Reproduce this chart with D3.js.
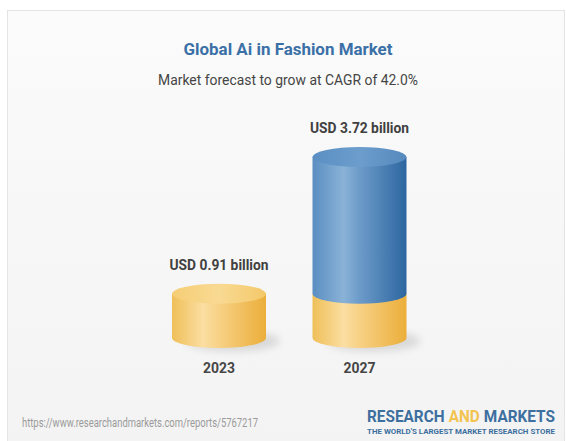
<!DOCTYPE html>
<html>
<head>
<meta charset="utf-8">
<script src="https://cdn.jsdelivr.net/npm/d3@7"></script>
<style>
  html, body { margin: 0; padding: 0; background: #ffffff; }
  svg { display: block; }
  text { font-family: Roboto, "Noto Sans", sans-serif; }
</style>
</head>
<body>
<svg id="chart" width="566" height="441"></svg>
<script>
// Market size by year (USD billion)
const years = ["2023", "2027"];
const values = [0.91, 3.72];
const valueLabels = ["USD 0.91 billion", "USD 3.72 billion"];
const title = "Global Ai in Fashion Market";
const subtitle = "Market forecast to grow at CAGR of 42.0%";
const sourceUrl = "https://www.researchandmarkets.com/reports/5767217";
const brandWords = ["RESEARCH", "AND", "MARKETS"];
const tagline = "THE WORLD'S LARGEST MARKET RESEARCH STORE";

const svg = d3.select("#chart");

const defs = svg.append("defs");

// card background
const bg = defs.append("linearGradient").attr("id", "bg")
  .attr("x1", 0).attr("y1", 0).attr("x2", 0).attr("y2", 1);
bg.append("stop").attr("offset", "0%").attr("stop-color", "#fbfbfb");
bg.append("stop").attr("offset", "100%").attr("stop-color", "#f3f3f3");

function hGrad(id, stops) {
  const g = defs.append("linearGradient").attr("id", id)
    .attr("x1", 0).attr("y1", 0).attr("x2", 1).attr("y2", 0);
  stops.forEach(([o, c]) => g.append("stop").attr("offset", o).attr("stop-color", c));
}
hGrad("yellowBody", [["0%", "#efbf58"], ["33%", "#fbdea2"], ["50%", "#f7d185"], ["100%", "#ebae3a"]]);
hGrad("blueBody", [["0%", "#5a8ec1"], ["33%", "#8ab2d7"], ["50%", "#6c9bc9"], ["100%", "#2d66a0"]]);
hGrad("yellowTop", [["0%", "#f5cd74"], ["50%", "#f9da93"], ["100%", "#f3c869"]]);
hGrad("blueTop", [["0%", "#5a8fc3"], ["50%", "#6c9dcc"], ["100%", "#5689bd"]]);

const shadowBlur = defs.append("filter").attr("id", "soft")
  .attr("x", "-50%").attr("y", "-200%").attr("width", "200%").attr("height", "500%");
shadowBlur.append("feGaussianBlur").attr("stdDeviation", 4);

svg.append("rect")
  .attr("x", 7.5).attr("y", 10.5).attr("width", 557).attr("height", 440)
  .attr("fill", "url(#bg)").attr("stroke", "#e4e4e4");

// scales
const x = d3.scalePoint().domain(years).range([219, 359.5]);
const y = d3.scaleLinear().domain([0, 3.72]).range([338, 157]);
const rx = 47, ry = 10;

// squeeze a text to the given width (narrow face look)
function fit(sel, w) {
  return sel.attr("textLength", w).attr("lengthAdjust", "spacingAndGlyphs");
}

// headings
fit(svg.append("text").attr("x", 288).attr("y", 55).attr("text-anchor", "middle")
  .attr("font-size", 17).attr("font-weight", 700).attr("fill", "#3b70a7").text(title), 209);
fit(svg.append("text").attr("x", 288).attr("y", 85).attr("text-anchor", "middle")
  .attr("font-size", 15.5).attr("fill", "#454545").text(subtitle), 260);

function bodyPath(cx, yTop, yBot) {
  const x0 = cx - rx, x1 = cx + rx;
  return `M${x0},${yTop} L${x0},${yBot} A${rx},${ry} 0 0 0 ${x1},${yBot} L${x1},${yTop} Z`;
}

const base = values[0];
const g = svg.append("g");

years.forEach((yr, i) => {
  const cx = x(yr);
  const v = values[i];
  const lower = Math.min(v, base);

  // ground shadow
  g.append("ellipse")
    .attr("cx", cx + 14).attr("cy", y(0) + 3)
    .attr("rx", rx).attr("ry", ry)
    .attr("fill", "#000").attr("opacity", 0.12)
    .attr("filter", "url(#soft)");

  // base segment (yellow)
  g.append("path").attr("d", bodyPath(cx, y(lower), y(0))).attr("fill", "url(#yellowBody)");

  if (v > base) {
    // growth segment (blue) stacked above the base
    g.append("path").attr("d", bodyPath(cx, y(v), y(base))).attr("fill", "url(#blueBody)");
    g.append("ellipse").attr("cx", cx).attr("cy", y(v))
      .attr("rx", rx).attr("ry", ry).attr("fill", "url(#blueTop)");
  } else {
    g.append("ellipse").attr("cx", cx).attr("cy", y(v))
      .attr("rx", rx).attr("ry", ry).attr("fill", "url(#yellowTop)");
  }

  // value label
  fit(svg.append("text").attr("x", cx).attr("y", y(v) - ry - 14)
    .attr("text-anchor", "middle").attr("font-size", 15).attr("font-weight", 700)
    .attr("fill", "#404040").text(valueLabels[i]), 99);

  // year label
  fit(svg.append("text").attr("x", cx).attr("y", 373)
    .attr("text-anchor", "middle").attr("font-size", 15).attr("font-weight", 700)
    .attr("fill", "#464646").text(yr), 32);
});

// footer: source link
fit(svg.append("text").attr("x", 22).attr("y", 427)
  .attr("font-size", 12).attr("fill", "#9a9a9a").text(sourceUrl), 236);

// footer: brand mark, words laid out side by side then squeezed to width
const brand = svg.append("g");
const brandColors = ["#3d6f9f", "#f3c34f", "#3d6f9f"];
const words = brand.selectAll("text").data(brandWords).join("text")
  .attr("y", 422).attr("font-size", 17).attr("font-weight", 700)
  .attr("fill", (d, i) => brandColors[i]).text(d => d);
const gap = 4.5;
let cursor = 0;
words.each(function () {
  d3.select(this).attr("x", cursor);
  cursor += this.getComputedTextLength() + gap;
});
const natural = cursor - gap;
brand.attr("transform", `translate(367,0) scale(${188 / natural},1)`);

fit(svg.append("text").attr("x", 367).attr("y", 434)
  .attr("font-size", 7.5).attr("font-weight", 700).attr("fill", "#3d6f9f")
  .text(tagline), 188);
</script>
</body>
</html>
